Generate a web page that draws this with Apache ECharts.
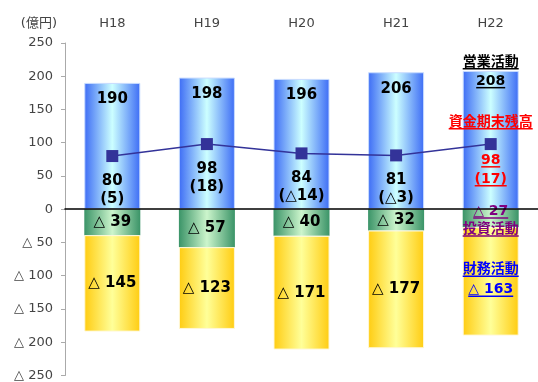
<!DOCTYPE html>
<html>
<head>
<meta charset="utf-8">
<script src="https://cdn.jsdelivr.net/npm/echarts@6/dist/echarts.min.js"></script>
<style>
  html, body { margin: 0; padding: 0; background: #fff; }
  #chart { width: 538px; height: 382px; }
</style>
</head>
<body>
<div id="chart"></div>
<script>
const years = ['H18', 'H19', 'H20', 'H21', 'H22']
const operating = [190, 198, 196, 206, 208]
const investing = [-39, -57, -40, -32, -27]
const financing = [-145, -123, -171, -177, -163]
const cashEnd = [80, 98, 84, 81, 98]
const cashChange = ['5', '18', '△14', '△3', '17']

const font = '"DejaVu Sans", "Noto Sans CJK JP", sans-serif'
const tri = v => (v < 0 ? '△ ' + (-v) : String(v))

const ctx = document.createElement('canvas').getContext('2d')
function textWidth(s, size) {
  ctx.font = 'bold ' + size + 'px ' + font
  return Math.round(ctx.measureText(s).width)
}

// rich text block where every line gets an underline bar right below it
function underlined(lines, color, size, step) {
  const rich = {
    t: { color: color, fontWeight: 'bold', fontSize: size, fontFamily: font, lineHeight: 12 },
    gap: { fontSize: 1, lineHeight: step }
  }
  const parts = []
  lines.forEach((s, k) => {
    if (s === '') {
      parts.push('{gap| }')
      return
    }
    rich['u' + k] = {
      width: textWidth(s, size), height: 1.5, lineHeight: step - 12,
      fontSize: 1, verticalAlign: 'top', backgroundColor: color
    }
    parts.push('{t|' + s + '}\n{u' + k + '| }')
  })
  return { formatter: parts.join('\n'), rich: rich }
}

function grad(edge, mid) {
  return new echarts.graphic.LinearGradient(0, 0, 1, 0, [
    { offset: 0, color: edge },
    { offset: 0.5, color: mid },
    { offset: 1, color: edge }
  ])
}

const labelBase = {
  show: true,
  color: '#000',
  fontFamily: font,
  fontWeight: 'bold',
  fontSize: 15
}

const last = years.length - 1

const chart = echarts.init(document.getElementById('chart'))
chart.setOption({
  animation: false,
  grid: { left: 65, right: -11, top: 43, bottom: 4 },
  xAxis: [
    {
      type: 'category',
      data: years,
      z: 5,
      axisLine: { onZero: true, lineStyle: { color: '#000', width: 1.5 } },
      axisTick: { inside: true, length: 4, lineStyle: { color: '#000' } },
      axisLabel: { show: false }
    },
    {
      type: 'category',
      data: years,
      position: 'top',
      axisLine: { show: false, onZero: false },
      axisTick: { show: false },
      axisLabel: { color: '#444', fontSize: 13, fontFamily: font, margin: 13 }
    }
  ],
  yAxis: {
    type: 'value',
    min: -250,
    max: 250,
    interval: 50,
    name: '(億円)',
    nameLocation: 'end',
    nameGap: 13,
    nameTextStyle: { color: '#444', fontSize: 13, fontFamily: font, align: 'right', padding: [0, 8, 0, 0] },
    splitLine: { show: false },
    axisLine: { show: true, lineStyle: { color: '#aaa' } },
    axisTick: { show: true, length: 4, lineStyle: { color: '#aaa' } },
    axisLabel: { color: '#444', fontSize: 13, fontFamily: font, margin: 12, formatter: tri }
  },
  series: [
    {
      name: '営業活動',
      type: 'bar',
      stack: 'cf',
      barWidth: 56,
      itemStyle: { color: grad('#3d6cf5', '#ccffff'), borderColor: '#c8dcff', borderWidth: 1 },
      label: { ...labelBase, position: 'insideTop', distance: 9 },
      data: operating.map((v, i) => i !== last ? v : {
        value: v,
        label: {
          position: ['50%', -15],
          align: 'center',
          verticalAlign: 'top',
          ...underlined(['営業活動', String(v)], '#000', 14, 19)
        }
      })
    },
    {
      name: '投資活動',
      type: 'bar',
      stack: 'cf',
      itemStyle: { color: grad('#3b9468', '#ccf5cc') },
      label: { ...labelBase, position: 'inside', formatter: p => tri(p.value) },
      data: investing.map((v, i) => i !== last ? v : {
        value: v,
        label: {
          offset: [0, 5],
          ...underlined([tri(v), '投資活動'], '#800080', 14, 18)
        }
      })
    },
    {
      name: '財務活動',
      type: 'bar',
      stack: 'cf',
      itemStyle: { color: grad('#ffcc11', '#ffff99'), borderColor: '#fff8d8', borderWidth: 1 },
      label: { ...labelBase, position: 'inside', formatter: p => tri(p.value) },
      data: financing.map((v, i) => i !== last ? v : {
        value: v,
        label: {
          offset: [0, 2],
          ...underlined(['財務活動', tri(v)], '#0000ff', 14, 20)
        }
      })
    },
    {
      name: '資金期末残高',
      type: 'line',
      symbol: 'rect',
      symbolSize: 12,
      lineStyle: { color: '#333399', width: 1.5 },
      itemStyle: { color: '#333399' },
      label: {
        ...labelBase,
        position: 'bottom',
        distance: 10,
        lineHeight: 18,
        formatter: p => p.value + '\n(' + cashChange[p.dataIndex] + ')'
      },
      data: cashEnd.map((v, i) => i !== last ? v : {
        value: v,
        label: {
          position: 'inside',
          offset: [0, 10],
          ...underlined(['資金期末残高', '', String(v), '(' + cashChange[i] + ')'], '#ff0000', 14, 19)
        }
      })
    }
  ]
})
</script>
</body>
</html>
